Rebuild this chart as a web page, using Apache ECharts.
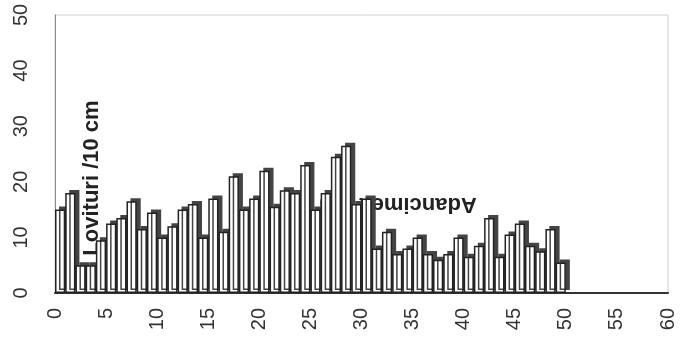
<!DOCTYPE html>
<html>
<head>
<meta charset="utf-8">
<script src="https://cdn.jsdelivr.net/npm/echarts@6/dist/echarts.min.js"></script>
<style>
  html, body { margin: 0; padding: 0; background: #fff; }
  #chart { width: 680px; height: 362px; }
</style>
</head>
<body>
<div id="chart"></div>
<script>
// adancime (m) - centrul fiecarei coloane de 1 m
var depths = []
for (var d = 0; d < 50; d++) depths.push(d + 0.5)

// lovituri / 10 cm
var blows = [
  15, 18, 5, 5, 9.5, 12.5, 13.5, 16.5, 11.5, 14.5,
  10, 12, 15, 16, 10, 17, 11, 21, 15, 17,
  22, 15.5, 18.5, 18, 23, 15, 18, 24.5, 26.5, 16,
  17, 8, 11, 7, 8, 10, 7, 6, 7, 10,
  6.5, 8.5, 13.5, 6.5, 10.5, 12.5, 8.5, 7.5, 11.5, 5.5
]

var xTicks = [0, 5, 10, 15, 20, 25, 30, 35, 40, 45, 50, 55, 60]
var yTicks = [0, 10, 20, 30, 40, 50]

var font = 'Liberation Sans'
var chart = echarts.init(document.getElementById('chart'))

var barData = depths.map(function (x, i) { return [x, blows[i]] })

chart.setOption({
  animation: false,
  grid: {
    left: 55,
    right: 12,
    top: 15,
    bottom: 69,
    show: true,
    borderColor: '#d0d0d0',
    borderWidth: 1
  },
  xAxis: {
    type: 'value',
    min: xTicks[0],
    max: xTicks[xTicks.length - 1],
    interval: 5,
    axisLine: { show: true, onZero: false, lineStyle: { color: '#333', width: 2 } },
    axisTick: { show: false },
    splitLine: { show: false },
    axisLabel: {
      rotate: 90,
      margin: 15,
      fontFamily: font,
      fontSize: 20,
      color: '#333'
    }
  },
  yAxis: {
    type: 'value',
    min: yTicks[0],
    max: yTicks[yTicks.length - 1],
    interval: 10,
    axisLine: { show: true, lineStyle: { color: '#888', width: 1 } },
    axisTick: { show: false },
    splitLine: { show: false },
    axisLabel: {
      rotate: 90,
      margin: 24,
      fontFamily: font,
      fontSize: 20,
      color: '#333'
    }
  },
  graphic: [
    {
      type: 'text',
      x: 92,
      y: 178,
      rotation: Math.PI / 2,
      z: 1,
      style: {
        text: 'Lovituri /10 cm',
        font: 'bold 22px ' + font,
        fill: '#222',
        align: 'center',
        verticalAlign: 'middle'
      }
    },
    {
      type: 'text',
      x: 398,
      y: 204,
      rotation: Math.PI,
      z: 1,
      style: {
        text: 'Adancimea (m)',
        font: 'bold 22px ' + font,
        fill: '#222',
        align: 'center',
        verticalAlign: 'middle'
      }
    }
  ],
  series: [{
    type: 'bar',
    data: barData,
    barWidth: 10.2,
    z: 5,
    itemStyle: {
      color: '#fff',
      borderColor: '#222',
      borderWidth: 1.5,
      shadowColor: '#444',
      shadowBlur: 0,
      shadowOffsetX: 4,
      shadowOffsetY: -3
    }
  }]
})
</script>
</body>
</html>
